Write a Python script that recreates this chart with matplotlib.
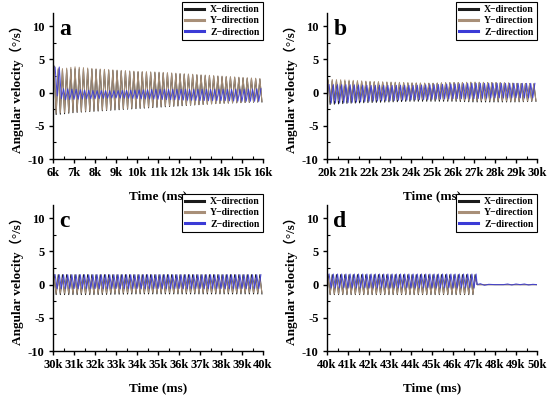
import numpy as np
import matplotlib
matplotlib.use("Agg")
import matplotlib.pyplot as plt
from matplotlib.ticker import MultipleLocator, FuncFormatter

# ---------------- data ----------------
series_names = ["X\u2212direction", "Y\u2212direction", "Z\u2212direction"]
panel_letters = ["a", "b", "c", "d"]
x_ranges = [(6000, 16000), (20000, 30000), (30000, 40000), (40000, 50000)]
half_period = 100  # ms between successive peak and trough

# envelope knots (ms) and peak / trough values per series
knots_a = [6050, 6200, 6500, 7000, 8000, 9000, 10000, 11000, 12000, 13000, 14000, 15000, 16000]
x_max_a = [4.0, 3.5, 3.4, 3.6, 3.5, 3.3, 3.1, 3.0, 2.8, 2.6, 2.4, 2.2, 2.0]
x_min_a = [-3.3, -3.3, -3.2, -3.0, -2.8, -2.6, -2.4, -2.2, -2.0, -1.8, -1.6, -1.5, -1.4]
y_max_a = [3.8, 3.7, 3.6, 3.9, 3.6, 3.4, 3.2, 3.1, 2.9, 2.7, 2.5, 2.3, 2.1]
y_min_a = [-3.0, -3.1, -3.0, -2.9, -2.7, -2.5, -2.3, -2.1, -1.9, -1.8, -1.6, -1.5, -1.3]
z_max_a = [3.0, 5.5, 0.6, 0.5, 0.3, 0.3, 0.4, 0.5, 0.5, 0.5, 0.5, 0.5, 0.6]
z_min_a = [0.0, -0.5, -1.1, -1.0, -0.9, -0.8, -0.9, -1.0, -1.1, -1.2, -1.2, -1.3, -1.3]

knots_b = [20050, 21000, 22000, 23000, 24000, 25000, 26000, 27000, 28000, 29000, 30000]
x_max_b = [1.8, 1.7, 1.6, 1.5, 1.4, 1.4, 1.5, 1.5, 1.5, 1.4, 1.3]
x_min_b = [-1.8, -1.6, -1.5, -1.4, -1.3, -1.3, -1.3, -1.4, -1.4, -1.4, -1.3]
y_max_b = [2.0, 1.9, 1.7, 1.6, 1.5, 1.4, 1.5, 1.6, 1.5, 1.4, 1.3]
y_min_b = [-1.2, -1.2, -1.1, -1.1, -1.0, -1.0, -1.1, -1.2, -1.2, -1.3, -1.2]
z_max_b = [1.2, 1.2, 1.1, 1.1, 1.1, 1.2, 1.3, 1.4, 1.4, 1.4, 1.4]
z_min_b = [-1.6, -1.5, -1.3, -1.2, -1.1, -1.0, -0.9, -0.9, -0.8, -0.8, -0.8]

knots_c = [30050, 32000, 34000, 36000, 38000, 40000]
x_max_c = [1.5, 1.5, 1.5, 1.5, 1.5, 1.5]
x_min_c = [-1.5, -1.5, -1.4, -1.4, -1.4, -1.4]
y_max_c = [1.0, 1.0, 1.0, 1.0, 1.0, 1.0]
y_min_c = [-1.3, -1.3, -1.2, -1.2, -1.2, -1.2]
z_max_c = [1.5, 1.5, 1.5, 1.5, 1.5, 1.5]
z_min_c = [-0.6, -0.6, -0.6, -0.6, -0.6, -0.6]

knots_d = [40050, 42000, 44000, 46000, 47150]
x_max_d = [1.5, 1.5, 1.5, 1.5, 1.5]
x_min_d = [-1.5, -1.5, -1.5, -1.5, -1.5]
y_max_d = [1.0, 1.0, 1.0, 1.0, 1.0]
y_min_d = [-1.4, -1.4, -1.4, -1.4, -1.4]
z_max_d = [1.6, 1.6, 1.6, 1.6, 1.6]
z_min_d = [-0.5, -0.5, -0.5, -0.5, -0.5]

# quiet tail of panel d after the motion stops
tail_t = [47150, 47300, 47500, 47700, 48000, 48400, 48600, 48800, 49000, 49200, 49400, 49600, 49800, 50000]
tail_x = [0.0, 0.0, 0.0, 0.0, 0.0, 0.0, 0.0, 0.0, 0.0, 0.0, 0.0, 0.0, 0.0, 0.0]
tail_y = [0.0, 0.0, 0.0, 0.0, 0.0, 0.0, 0.0, 0.0, 0.0, 0.0, 0.0, 0.0, 0.0, 0.0]
tail_z = [0.0, 0.15, -0.1, 0.05, 0.0, 0.0, 0.1, -0.05, 0.1, 0.0, 0.1, -0.05, 0.05, 0.0]

z_phase = 50  # ms shift of the Z oscillation

panels = [
    (knots_a, [(x_max_a, x_min_a), (y_max_a, y_min_a), (z_max_a, z_min_a)]),
    (knots_b, [(x_max_b, x_min_b), (y_max_b, y_min_b), (z_max_b, z_min_b)]),
    (knots_c, [(x_max_c, x_min_c), (y_max_c, y_min_c), (z_max_c, z_min_c)]),
    (knots_d, [(x_max_d, x_min_d), (y_max_d, y_min_d), (z_max_d, z_min_d)]),
]
tails = [None, None, None, (tail_t, [tail_x, tail_y, tail_z])]

colors = ["#1c1c1c", "#a88f78", "#3b3bd6"]

# ---------------- figure ----------------
serif = ["Liberation Serif", "DejaVu Serif"]
label_family = ["Liberation Serif", "Noto Sans CJK SC"]
plt.rcParams["font.family"] = serif
plt.rcParams["font.weight"] = "bold"

fig = plt.figure(figsize=(5.5, 3.97), dpi=100)
positions = [
    (53 / 550, 1 - 159 / 397, 210 / 550, 146 / 397),
    (327 / 550, 1 - 159 / 397, 210 / 550, 146 / 397),
    (53 / 550, 1 - 351 / 397, 210 / 550, 146 / 397),
    (327 / 550, 1 - 351 / 397, 210 / 550, 146 / 397),
]


def zigzag(knots, vmax, vmin, start, end, shift):
    t = np.arange(start + shift, end, half_period)
    hi = np.interp(t, knots, vmax)
    lo = np.interp(t, knots, vmin)
    v = np.where(np.arange(len(t)) % 2 == 0, hi, lo)
    return t, v


for i, ax_pos in enumerate(positions):
    ax = fig.add_axes(ax_pos)
    knots, env = panels[i]
    handles = []
    for j, (vmax, vmin) in enumerate(env):
        shift = z_phase if j == 2 else 0
        t, v = zigzag(knots, vmax, vmin, knots[0], knots[-1], shift)
        if tails[i] is not None:
            tt, tv = tails[i]
            t = np.concatenate([t, tt])
            v = np.concatenate([v, tv[j]])
        (h,) = ax.plot(t, v, color=colors[j], lw=0.75, alpha=0.9 if j == 2 else 1.0)
        handles.append(h)

    x0, x1 = x_ranges[i]
    ax.set_xlim(x0, x1)
    ax.set_ylim(-10, 12)
    ax.xaxis.set_major_locator(MultipleLocator(1000))
    ax.xaxis.set_minor_locator(MultipleLocator(500))
    ax.yaxis.set_major_locator(MultipleLocator(5))
    ax.yaxis.set_minor_locator(MultipleLocator(2.5))
    ax.xaxis.set_major_formatter(FuncFormatter(lambda v, p: f"{int(round(v / 1000))}k"))
    ax.yaxis.set_major_formatter(FuncFormatter(lambda v, p: f"{int(v)}"))
    for s in ["top", "right"]:
        ax.spines[s].set_visible(False)
    for s in ["left", "bottom"]:
        ax.spines[s].set_linewidth(1.0)
    ax.tick_params(which="major", direction="out", length=3, width=1.0, labelsize=9, pad=3)
    ax.tick_params(which="minor", direction="in", length=2, width=0.8)
    for lab in ax.get_xticklabels() + ax.get_yticklabels():
        lab.set_fontweight("bold")

    ax.set_xlabel("Time (ms)", fontsize=9.5, fontweight="bold", labelpad=8)
    ax.set_ylabel("Angular velocity\uff08\u00b0/s\uff09", fontsize=9.5, fontweight="bold",
                  family=label_family, labelpad=3)
    ax.text(0.03, 0.96, panel_letters[i], transform=ax.transAxes, fontsize=17,
            fontweight="bold", va="top", ha="left")

    leg = ax.legend(handles, series_names, loc="upper right", bbox_to_anchor=(1.0, 1.075),
                    prop={"family": serif, "weight": "bold", "size": 7},
                    frameon=True, fancybox=False, edgecolor="black", framealpha=1,
                    handlelength=2.0, handletextpad=0.6, borderpad=0.3, labelspacing=0.25,
                    borderaxespad=0.0)
    leg.get_frame().set_linewidth(0.8)
    for lh in leg.get_lines():
        lh.set_linewidth(2.2)
        lh.set_alpha(1.0)

fig.savefig("out.png", dpi=100)
